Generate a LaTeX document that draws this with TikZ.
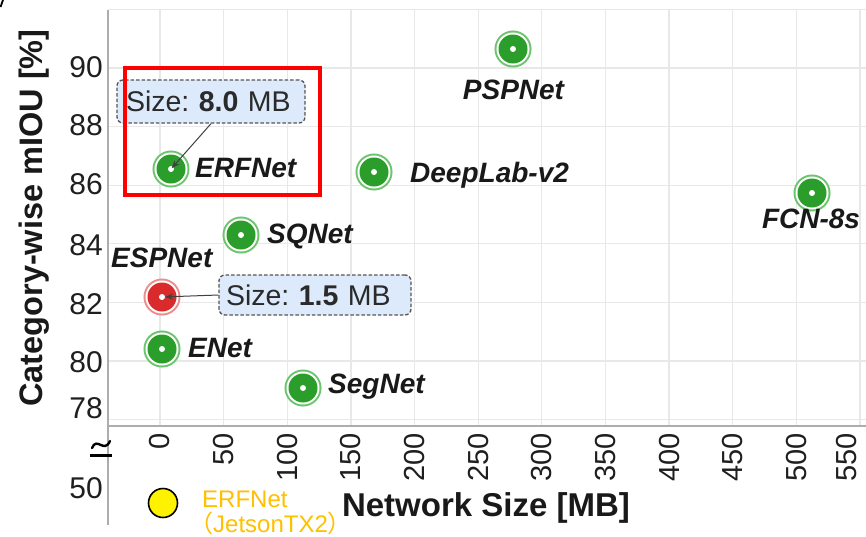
\documentclass[tikz,border=0pt]{standalone}
\usepackage{fontspec}
\setmainfont{Liberation Sans}
\newfontfamily\cjk{Noto Sans CJK JP}
\usetikzlibrary{arrows.meta}

\definecolor{gridgray}{HTML}{E8E8E8}
\definecolor{axisgray}{HTML}{ADADAD}
\definecolor{dotgreen}{HTML}{2A9D2A}
\definecolor{ringgreen}{HTML}{6CC46C}
\definecolor{dotred}{HTML}{D92B2B}
\definecolor{ringred}{HTML}{EE8C8C}
\definecolor{tipblue}{HTML}{DCEAFB}
\definecolor{tipedge}{HTML}{555555}
\definecolor{tiptext}{HTML}{2A2A2A}
\definecolor{jetson}{HTML}{FFC000}
\definecolor{framered}{HTML}{FF0000}

\newcommand\fsz[1]{\fontsize{#1}{#1}\selectfont\frenchspacing}

\begin{document}
\begin{tikzpicture}[x=1pt,y=-1pt,
  gridline/.style={gridgray, line width=1.2pt},
  axisline/.style={axisgray, line width=2.5pt},
  ytick/.style={anchor=east, inner sep=0pt, font=\fsz{30}, text=black!88},
  xtick/.style={anchor=east, rotate=90, inner sep=0pt, font=\fsz{29}, text=black!88},
  netdot/.style 2 args={circle, minimum size=29pt, inner sep=0pt, fill=#1,
     preaction={draw=#2, line width=8pt},
     preaction={draw=white, line width=4pt},
     path picture={\fill[white] (path picture bounding box.center) circle (3pt);}},
  netlabel/.style={font=\fsz{28}\bfseries\itshape, inner sep=0pt, text=black!90},
  sizetip/.style={draw=tipedge, dash pattern=on 3.5pt off 2pt, line width=1.3pt,
     fill=tipblue, rounded corners=6pt, font=\fsz{28.5}, text=tiptext,
     align=left, inner ysep=0pt},
  pointer/.style={-{Stealth[length=8pt,width=6pt]}, line width=1pt, draw=black!75},
]
% canvas
\fill[white] (0,0) rectangle (866,536);
\useasboundingbox (0,0) rectangle (866,536);

% stray stroke in the corner
\draw[line width=1.8pt, black] (0.5,7) -- (3,0);

% grid
\foreach \v in {0,50,...,550}
  \draw[gridline] ({160+\v*1.2727},10) -- ({160+\v*1.2727},426);
\foreach \v in {78,80,...,92}
  \draw[gridline] (108,{361-(\v-80)*29.3}) -- (866,{361-(\v-80)*29.3});

% axes
\draw[axisline] (108,10) -- (108,525);
\draw[axisline] (107,426) -- (866,426);

% axis break on the y axis
\draw[line width=2.4pt, line cap=round] (92,448) .. controls (97,436) and (104,454) .. (110,441);
\draw[line width=2.6pt] (90,455.5) -- (112,455.5);

% y tick labels
\node[ytick] (y90) at (103,67)  {90};
\node[ytick] (y88) at (103,125) {88};
\node[ytick] (y86) at (103,184) {86};
\node[ytick] (y84) at (103,245) {84};
\node[ytick] (y82) at (103,304) {82};
\node[ytick] (y80) at (103,362) {80};
\node[ytick] (y78) at (103,408) {78};
\node[ytick] (y50) at (103,488) {50};

% x tick labels
\foreach \v in {0,50,...,500}
  \node[xtick] (x\v) at ({160+\v*1.2727},433) {\v};
\node[xtick] (x550) at (847,433) {550};

% axis titles
\node[font=\fsz{33}\bfseries, inner sep=0pt, anchor=base, text=black!90]
  (xtitle) at (486,516) {Network Size [MB]};
\node[font=\fsz{32.5}\bfseries, inner sep=0pt, anchor=base, rotate=90, text=black!90]
  (ytitle) at (42,218) {Category-wise mIOU [\%]};

% data points
\node[netdot={dotgreen}{ringgreen}] (psp) at (513,49)  {};
\node[netdot={dotgreen}{ringgreen}] (erf) at (171,169) {};
\node[netdot={dotgreen}{ringgreen}] (dlab) at (374,172) {};
\node[netdot={dotgreen}{ringgreen}] (fcn) at (812,193) {};
\node[netdot={dotgreen}{ringgreen}] (sq)  at (241,235) {};
\node[netdot={dotred}{ringred}]     (esp) at (162,297) {};
\node[netdot={dotgreen}{ringgreen}] (enet) at (162,349) {};
\node[netdot={dotgreen}{ringgreen}] (seg) at (303,388) {};

% point labels
\node[netlabel, anchor=base]      (lpsp)  at (513.5,99) {PSPNet};
\node[netlabel, anchor=base west] (lerf)  at (195,177)  {ERFNet};
\node[netlabel, anchor=base west] (ldlab) at (410,182)  {DeepLab-v2};
\node[netlabel, anchor=base]      (lfcn)  at (811,228)  {FCN-8s};
\node[netlabel, anchor=base west] (lsq)   at (267,243)  {SQNet};
\node[netlabel, anchor=base west] (lesp)  at (111,267)  {ESPNet};
\node[netlabel, anchor=base west] (lenet) at (188,357)  {ENet};
\node[netlabel, anchor=base west] (lseg)  at (328,393)  {SegNet};

% size call-outs
\node[sizetip, text width=170pt, inner xsep=9pt, minimum height=43pt]
  (tip8) at (211,101.5) {\mbox{Size: \textbf{8.0} MB}};
\node[sizetip, text width=178pt, inner xsep=7pt, minimum height=40pt]
  (tip15) at (315,295) {\mbox{Size: \textbf{1.5} MB}};
\draw[pointer, shorten >=1pt] (tip8.south) -- (erf.center);
\draw[pointer, shorten >=3pt] (tip15.west) -- (esp.center);

% highlight frame
\node[draw=framered, line width=4.5pt, minimum width=195pt, minimum height=127pt,
      inner sep=0pt] (focus) at (222.5,131.5) {};

% embedded result
\node[circle, fill=yellow, draw=black, line width=1.6pt, minimum size=29pt,
      inner sep=0pt] (jet) at (163,503) {};
\node[font=\fsz{24}, text=jetson, inner sep=0pt, anchor=base west]
  (ljet1) at (202,507) {ERFNet};
\node[font=\fsz{24}, text=jetson, inner sep=0pt, anchor=base west]
  (ljet2) at (189,532) {{\cjk （}JetsonTX2{\cjk ）}};
\end{tikzpicture}
\end{document}
